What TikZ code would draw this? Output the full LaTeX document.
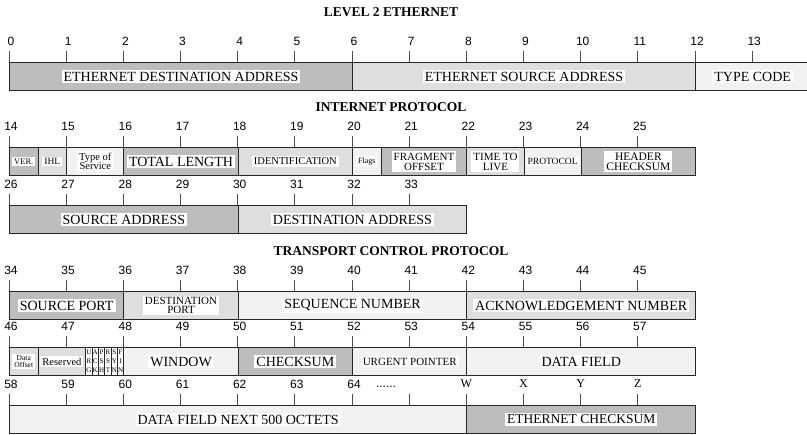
\documentclass[tikz,border=0pt]{standalone}
\usepackage{fontspec}
\setmainfont{Liberation Serif}
\newfontfamily\numfont{Liberation Sans}
\definecolor{dkfill}{gray}{0.74}
\definecolor{ltfill}{gray}{0.87}
\definecolor{vlfill}{gray}{0.945}
\newcommand\fsz[2]{\fontsize{#1}{#2}\selectfont}
\tikzset{
  field/.style={draw=black!85, line width=1pt, anchor=north west, minimum height=28pt, inner sep=0pt},
  lbl/.style={fill=white, inner xsep=2pt, inner ysep=1.5pt, align=center},
  tick/.style={draw=black!70, line width=0.8pt},
  num/.style={font=\numfont\fsz{12}{12}, inner sep=0pt},
  title/.style={font=\bfseries\fsz{13.5}{13.5}, inner sep=0pt}
}
% name, from, to (octets), top, fill, font, label
\newcommand\fld[7]{
  \node[field, fill=#5, minimum width={(#3-#2)*57.17pt}] (#1) at ({9+#2*57.17},#4) {};
  \node[lbl, font=#6] (#1-l) at (#1.center) {#7};
}
% row field, top, first k, last k, first number
\newcommand\octs[5]{
  \foreach \k in {#3,...,#4}{
    \pgfmathtruncatemacro\oct{#5+\k-#3}
    \coordinate (t\oct) at ({9+\k*57.17},#2-11);
    \draw[tick] (t\oct) -- (t\oct |- #1.north);
    \node[num] (n\oct) at ([xshift=2pt,yshift=10pt]t\oct) {\oct};
  }
}

\begin{document}
\begin{tikzpicture}[x=1pt, y=-1pt]
  \useasboundingbox (0,0) rectangle (807,435);

  \node[title] (ethtitle) at (391,12) {LEVEL 2 ETHERNET};
  \fld{ethdst}{0}{6}{62}{dkfill}{\fsz{14}{14}}{ETHERNET DESTINATION ADDRESS}
  \fld{ethsrc}{6}{12}{62}{ltfill}{\fsz{14}{14}}{ETHERNET SOURCE ADDRESS}
  \fld{typecode}{12}{14}{62}{vlfill}{\fsz{14}{14}}{TYPE CODE}
  \octs{ethdst}{62}{0}{13}{0}

  \node[title] (iptitle) at (391,107) {INTERNET PROTOCOL};
  \fld{ver}{0}{0.5}{147}{dkfill}{\fsz{8.5}{8.5}}{VER.}
  \fld{ihl}{0.5}{1}{147}{ltfill}{\fsz{9.5}{9.5}}{IHL}
  \fld{tos}{1}{2}{147}{vlfill}{\fsz{10.5}{9.5}}{Type of\\Service}
  \fld{totlen}{2}{4}{147}{dkfill}{\fsz{14}{14}}{TOTAL LENGTH}
  \fld{ident}{4}{6}{147}{ltfill}{\fsz{10.5}{10.5}}{IDENTIFICATION}
  \fld{ipflags}{6}{6.5}{147}{vlfill}{\fsz{8}{8}}{Flags}
  \fld{fragoff}{6.5}{8}{147}{dkfill}{\fsz{11}{10}}{FRAGMENT\\OFFSET}
  \fld{ttl}{8}{9}{147}{ltfill}{\fsz{11}{10}}{TIME TO\\LIVE}
  \fld{proto}{9}{10}{147}{vlfill}{\fsz{9.5}{9.5}}{PROTOCOL}
  \fld{hdrsum}{10}{12}{147}{dkfill}{\fsz{11.5}{10}}{HEADER\\CHECKSUM}
  \octs{ver}{147}{0}{11}{14}

  \fld{srcaddr}{0}{4}{205}{dkfill}{\fsz{14}{14}}{SOURCE ADDRESS}
  \fld{dstaddr}{4}{8}{205}{ltfill}{\fsz{14}{14}}{DESTINATION ADDRESS}
  \octs{srcaddr}{205}{0}{7}{26}

  \node[title] (tcptitle) at (391,251) {TRANSPORT CONTROL PROTOCOL};
  \fld{srcport}{0}{2}{291}{dkfill}{\fsz{14}{14}}{SOURCE PORT}
  \fld{dstport}{2}{4}{291}{ltfill}{\fsz{11}{9.5}}{DESTINATION\\PORT}
  \fld{seqnum}{4}{8}{291}{vlfill}{\fsz{14}{14}}{SEQUENCE NUMBER}
  \fld{acknum}{8}{12}{291}{ltfill}{\fsz{14}{14}}{ACKNOWLEDGEMENT NUMBER}
  \octs{srcport}{291}{0}{11}{34}

  \fld{dataoff}{0}{0.5}{347}{ltfill}{\fsz{7.5}{7.5}}{Data\\Offset}
  \fld{reserved}{0.5}{1.3333}{347}{ltfill}{\fsz{10.5}{10.5}}{Reserved}
  \foreach \a/\b/\c [count=\i from 0] in {U/R/G, A/C/K, P/S/H, R/S/T, S/Y/N, F/I/N}{
    \pgfmathsetmacro\xa{4/3+\i/9}
    \node[field, fill=white, minimum width=6.35pt] (flag\i) at ({9+\xa*57.17},347) {};
    \node[font=\fsz{7}{9}, align=center, inner sep=0pt] (flag\i-l) at (flag\i.center) {\a\\\b\\\c};
  }
  \fld{window}{2}{4}{347}{vlfill}{\fsz{14}{14}}{WINDOW}
  \fld{tcpsum}{4}{6}{347}{dkfill}{\fsz{14}{14}}{CHECKSUM}
  \fld{urgent}{6}{8}{347}{vlfill}{\fsz{11}{11}}{URGENT POINTER}
  \fld{datafld}{8}{12}{347}{vlfill}{\fsz{14}{14}}{DATA FIELD}
  \octs{dataoff}{347}{0}{11}{46}

  \fld{nextdata}{0}{8}{405}{vlfill}{\fsz{14}{14}}{DATA FIELD NEXT 500 OCTETS}
  \fld{ethsum}{8}{12}{405}{dkfill}{\fsz{13.5}{13.5}}{ETHERNET CHECKSUM}
  \octs{nextdata}{405}{0}{6}{58}
  \coordinate (tdots) at ({9+7*57.17},394);
  \draw[tick] (tdots) -- (tdots |- nextdata.north);
  \node[num] (dots) at (386,387) {......};
  \foreach \l [count=\k from 8] in {W,X,Y,Z}{
    \coordinate (t\l) at ({9+\k*57.17},394);
    \draw[tick] (t\l) -- (t\l |- nextdata.north);
    \node[font=\fsz{12}{12}, inner sep=0pt] (n\l) at ([yshift=10pt]t\l) {\l};
  }
\end{tikzpicture}
\end{document}
